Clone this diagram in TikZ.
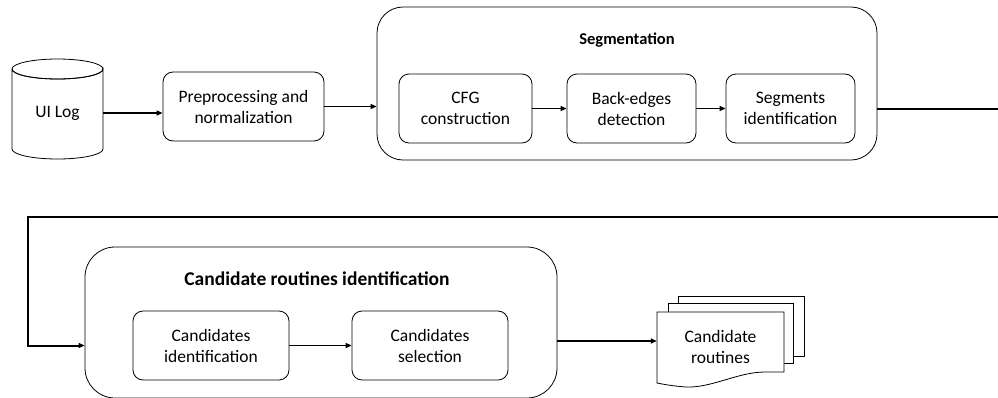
\documentclass[tikz,border=0pt]{standalone}
\usepackage{fontspec}
\setmainfont{Carlito}
\usetikzlibrary{arrows.meta,calc}
\begin{document}
\begin{tikzpicture}[x=1pt,y=-1pt,
  every node/.style={font=\fontsize{17.5}{21}\selectfont},
  stepbox/.style={draw, rounded corners=10pt, line width=0.8pt, align=center, inner sep=0pt},
  groupbox/.style={draw, rounded corners=26pt, line width=0.8pt, inner sep=0pt},
  title/.style={font=\bfseries\fontsize{#1}{22}\selectfont},
  conn/.style={line width=1.6pt, -{Triangle[length=6pt,width=5pt]}},
  shape line/.style={line width=0.8pt, fill=white}]
\useasboundingbox (0,0) rectangle (998,397);

% --- input log (cylinder) ---
\draw[shape line] (12,69) -- (12,149) arc[start angle=180, end angle=360, x radius=45.5pt, y radius=10pt]
  -- (103,69) arc[start angle=0, end angle=-180, x radius=45.5pt, y radius=10pt];
\draw[line width=0.8pt] (57.5,69) ellipse[x radius=45.5pt, y radius=10pt];
\node[minimum width=91pt, minimum height=70pt, inner sep=0pt] (uilog) at (57.5,113) {UI Log};

% --- preprocessing ---
\node[stepbox, minimum width=161pt, minimum height=69pt] (prep) at (243.5,106.5) {Preprocessing and\\normalization};

% --- segmentation group ---
\node[groupbox, minimum width=500pt, minimum height=153pt] (seg) at (627,83.5) {};
\node[title=16.5] (segtitle) at (627,40) {Segmentation};
\node[stepbox, minimum width=133pt, minimum height=69pt] (cfg) at (465.5,108.5) {CFG\\construction};
\node[stepbox, minimum width=129pt, minimum height=69pt] (back) at (631.5,108.5) {Back-edges\\detection};
\node[stepbox, minimum width=129pt, minimum height=69pt] (segs) at (790.5,108.5) {Segments\\identification};

% --- candidate routines identification group ---
\node[groupbox, rounded corners=30pt, minimum width=472pt, minimum height=151pt] (cand) at (321,322.5) {};
\node[title=19.5] (candtitle) at (317,279) {Candidate routines identification};
\node[stepbox, minimum width=156pt, minimum height=69pt] (cid) at (211,345.5) {Candidates\\identification};
\node[stepbox, minimum width=156pt, minimum height=69pt] (csel) at (430,345.5) {Candidates\\selection};

% --- output documents (stack) ---
\draw[shape line] (678,296) rectangle (804,356);
\draw[shape line] (668,303) rectangle (793,363);
\draw[shape line] (657,312) -- (784,312) -- (784,372) -- (765,372)
  .. controls (738,372) and (712,388) .. (686,387)
  .. controls (672,386) and (662,384) .. (657,383) -- cycle;
\node[align=center, minimum width=127pt, minimum height=70pt, inner sep=0pt] (doc) at (720.5,347) {Candidate\\routines};

% --- connectors ---
\coordinate (turnR) at (1004,217);
\coordinate (turnL) at (28,217);
\draw[conn] (uilog.east) -- (uilog.east -| prep.west);
\draw[conn] (prep.east) -- (prep.east -| seg.west);
\draw[conn] (cfg) -- (back);
\draw[conn] (back) -- (segs);
\draw[line width=2pt, -{Triangle[length=6pt,width=5pt]}] (segs.east -| seg.east) -| (turnR) -- (turnL) |- (cid -| cand.west);
\draw[conn] (cid) -- (csel);
\draw[conn] ($(cand.east)+(0,18.5)$) -- ($(doc.west)+(0,-6)$);
\end{tikzpicture}
\end{document}
